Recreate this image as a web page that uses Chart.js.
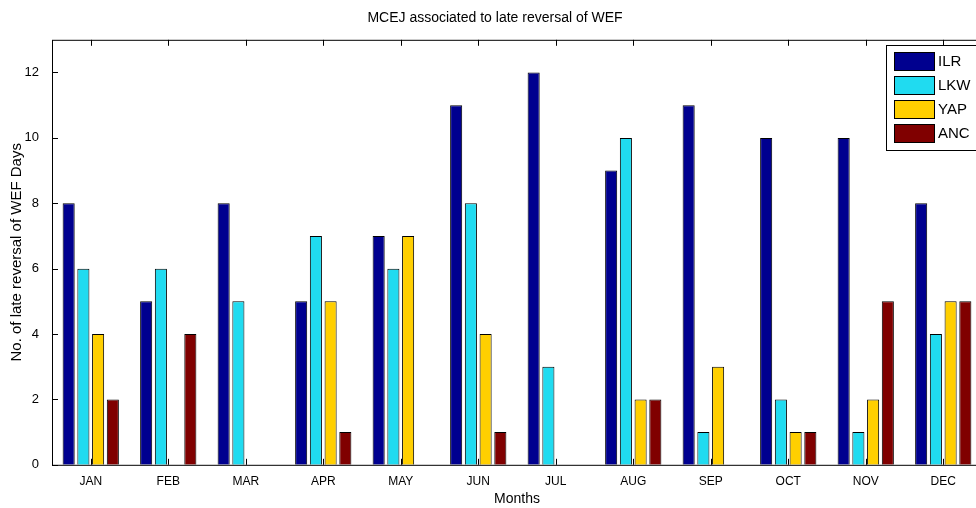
<!DOCTYPE html>
<html><head><meta charset="utf-8">
<script src="https://cdn.jsdelivr.net/npm/chart.js@4/dist/chart.umd.min.js"></script>
<style>body{margin:0;overflow:hidden;background:#fff}#wrap{width:995px;height:508px}</style>
</head><body>
<div id="wrap"><canvas id="myChart"></canvas></div>
<script>
const months = ['JAN','FEB','MAR','APR','MAY','JUN','JUL','AUG','SEP','OCT','NOV','DEC'];
const ilr = [8,5,8,5,7,11,12,9,11,10,10,8];
const lkw = [6,6,5,7,6,8,3,10,1,2,1,4];
const yap = [4,0,0,5,7,4,0,2,3,1,2,5];
const anc = [2,4,0,1,0,1,0,2,0,1,5,5];
const names = ['ILR','LKW','YAP','ANC'];
const colors = ['#00008f','#20dbf0','#ffcf00','#800000'];

// frame, inward ticks and legend box
const matlabFrame = {
    id: 'matlabFrame',
    afterDraw(chart){
        const {ctx, chartArea: {top, right, bottom, left}, scales: {x, y}} = chart;
        ctx.save();
        ctx.strokeStyle = '#000';
        ctx.lineWidth = 1;
        ctx.strokeRect(left + 0.5, top + 0.5, right - left, bottom - top);
        ctx.beginPath();
        for (let i = 0; i < months.length; i++) {
            const px = Math.round(x.getPixelForValue(i)) + 0.5;
            ctx.moveTo(px, bottom); ctx.lineTo(px, bottom - 6);
            ctx.moveTo(px, top); ctx.lineTo(px, top + 6);
        }
        for (let v = 0; v <= 12; v += 2) {
            const py = Math.round(y.getPixelForValue(v)) + 0.5;
            ctx.moveTo(left, py); ctx.lineTo(left + 6, py);
            ctx.moveTo(right, py); ctx.lineTo(right - 6, py);
        }
        ctx.stroke();
        // legend
        const lx = 886, ly = 45;
        ctx.fillStyle = '#fff';
        ctx.fillRect(lx, ly, 110, 105);
        ctx.strokeRect(lx + 0.5, ly + 0.5, 110, 105);
        ctx.font = '15px Arial';
        ctx.textBaseline = 'middle';
        names.forEach((n, i) => {
            const yy = ly + 7 + i * 24;
            ctx.fillStyle = colors[i];
            ctx.fillRect(lx + 8, yy, 40, 18);
            ctx.strokeRect(lx + 8.5, yy + 0.5, 40, 18);
            ctx.fillStyle = '#000';
            ctx.fillText(n, lx + 52, yy + 10);
        });
        ctx.restore();
    }
};

const series = [ilr, lkw, yap, anc];
const data = {
    labels: months,
    datasets: series.map((s, i) => ({
        label: names[i],
        data: s,
        backgroundColor: colors[i],
        borderColor: '#000',
        borderWidth: 1,
        borderSkipped: 'bottom'
    }))
};

new Chart(document.getElementById('myChart'), {
    type: 'bar',
    data,
    options: {
        animation: false,
        responsive: true,
        maintainAspectRatio: false,
        layout: {padding: {top: 0, right: 13, bottom: 0, left: 8}},
        categoryPercentage: 0.76,
        barPercentage: 0.82,
        plugins: {
            legend: {display: false},
            tooltip: {enabled: false},
            title: {display: true, text: 'MCEJ associated to late reversal of WEF', color: '#000',
                font: {family: 'Arial', size: 14, weight: 'normal'}, padding: {top: 10, bottom: 13}}
        },
        scales: {
            x: {
                grid: {display: false},
                border: {display: false},
                ticks: {color: '#000', font: {family: 'Arial', size: 12}, padding: 2, maxRotation: 0},
                title: {display: true, text: 'Months', color: '#000', font: {family: 'Arial', size: 14}, padding: 0}
            },
            y: {
                min: 0, max: 13,
                afterFit: s => { s.width = 44; },
                afterBuildTicks: s => { s.ticks = [0,2,4,6,8,10,12].map(v => ({value: v})); },
                grid: {display: false},
                border: {display: false},
                ticks: {color: '#000', font: {family: 'Arial', size: 13}, padding: 5},
                title: {display: true, text: 'No. of late reversal of WEF Days', color: '#000', font: {family: 'Arial', size: 15}, padding: 0}
            }
        }
    },
    plugins: [matlabFrame]
});
</script>
</body></html>
